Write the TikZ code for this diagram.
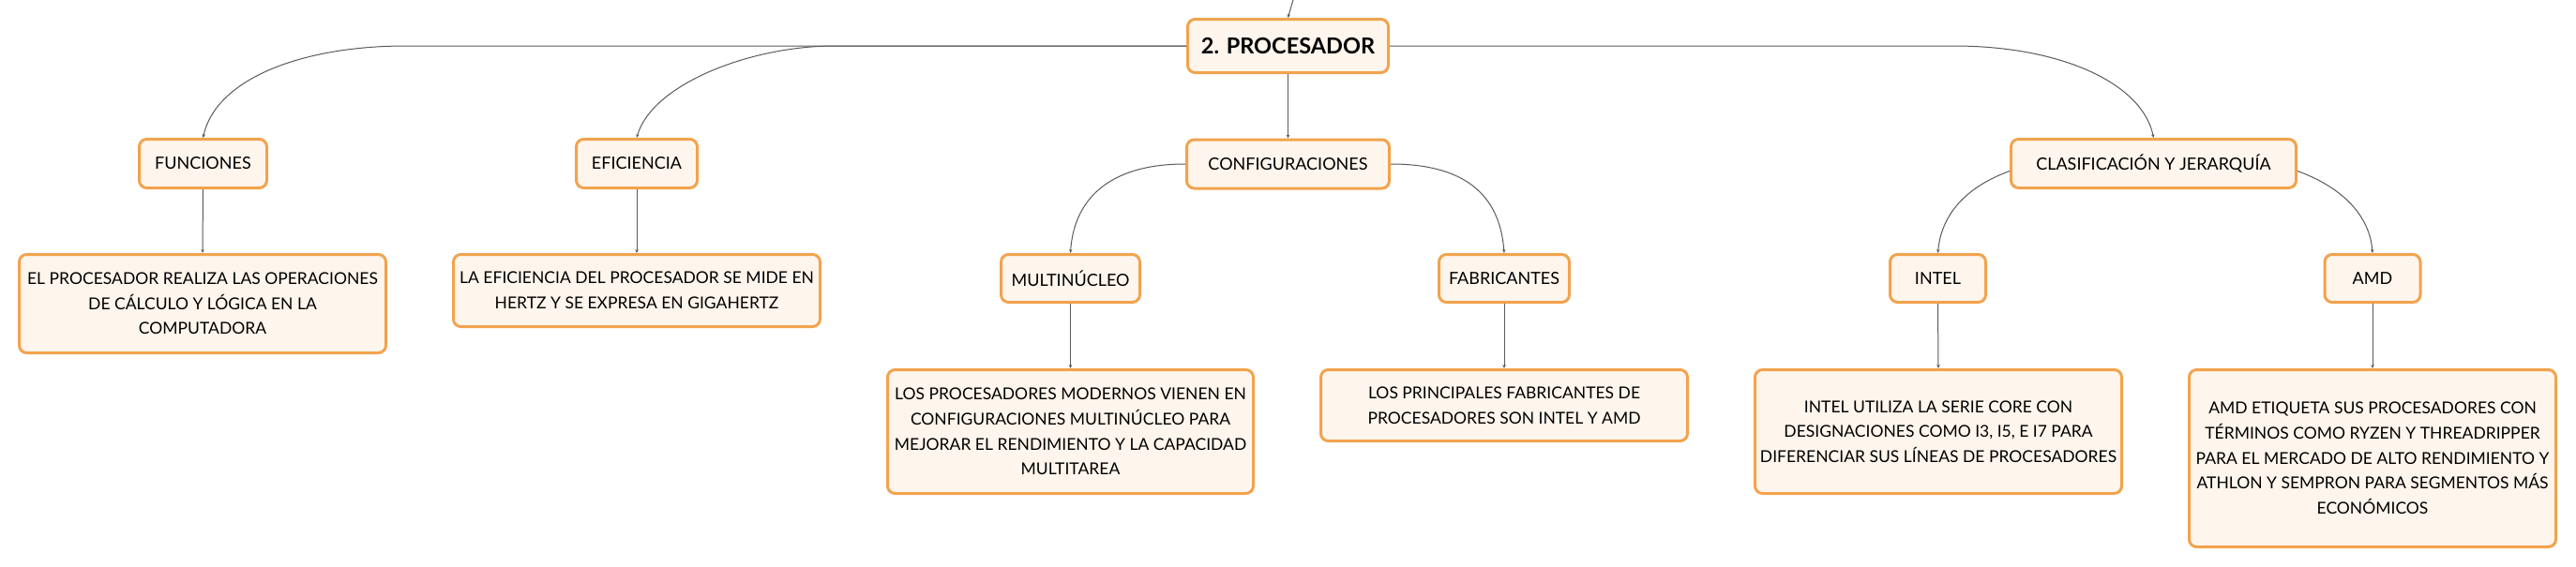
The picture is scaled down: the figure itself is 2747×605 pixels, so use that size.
\documentclass[tikz,border=0pt]{standalone}
\usepackage{fontspec}
\setmainfont{Lato}
\usetikzlibrary{arrows.meta}
\definecolor{boxedge}{HTML}{F2A34D}
\definecolor{boxfill}{HTML}{FEF5EC}
\definecolor{linkc}{HTML}{5A5A5A}
\begin{document}
\begin{tikzpicture}[x=1pt,y=-1pt,
  box/.style={draw=boxedge, fill=boxfill, line width=3pt, rounded corners=8pt,
    inner sep=0pt, align=center, anchor=center, text=black},
  toptitle/.style={box, font=\fontsize{23.5}{28}\selectfont\bfseries},
  topic/.style={box, font=\fontsize{18}{22}\selectfont},
  leaf/.style={box, font=\fontsize{17.5}{26.7}\selectfont},
  link/.style={draw=linkc, line width=1pt, -{Stealth[length=4pt,width=3.5pt]}}]
\useasboundingbox[fill=white] (0,0) rectangle (2747,605);

\coordinate (top) at (1379,0);
\node[toptitle, minimum width=214, minimum height=57] (proc) at (1373.5,49) {2. PROCESADOR};

\node[topic, minimum width=136, minimum height=52] (fun) at (216.5,174.5) {FUNCIONES};
\node[topic, minimum width=129, minimum height=52] (efi) at (679,174.5) {EFICIENCIA};
\node[topic, minimum width=216, minimum height=52] (conf) at (1373.5,175) {CONFIGURACIONES};
\node[topic, minimum width=304, minimum height=52] (clas) at (2296.5,174.5) {CLASIFICACIÓN Y JERARQUÍA};

\node[topic, minimum width=148, minimum height=51] (multi) at (1141.5,297) {MULTINÚCLEO};
\node[topic, minimum width=139, minimum height=51] (fab) at (1604,297) {FABRICANTES};
\node[topic, minimum width=102, minimum height=51] (intel) at (2066.5,297) {INTEL};
\node[topic, minimum width=102, minimum height=51] (amd) at (2530,297) {AMD};

\node[leaf, minimum width=391, minimum height=105] (funT) at (216,324)
  {EL PROCESADOR REALIZA LAS OPERACIONES\\DE CÁLCULO Y LÓGICA EN LA\\COMPUTADORA};
\node[leaf, minimum width=391, minimum height=77] (efiT) at (679,310)
  {LA EFICIENCIA DEL PROCESADOR SE MIDE EN\\HERTZ Y SE EXPRESA EN GIGAHERTZ};
\node[leaf, minimum width=390, minimum height=132] (multiT) at (1141.5,460.5)
  {LOS PROCESADORES MODERNOS VIENEN EN\\CONFIGURACIONES MULTINÚCLEO PARA\\MEJORAR EL RENDIMIENTO Y LA CAPACIDAD\\MULTITAREA};
\node[leaf, minimum width=391, minimum height=76] (fabT) at (1604,432.5)
  {LOS PRINCIPALES FABRICANTES DE\\PROCESADORES SON INTEL Y AMD};
\node[leaf, minimum width=391, minimum height=132] (intelT) at (2067,460.5)
  {INTEL UTILIZA LA SERIE CORE CON\\DESIGNACIONES COMO I3, I5, E I7 PARA\\DIFERENCIAR SUS LÍNEAS DE PROCESADORES};
\node[leaf, minimum width=391, minimum height=189] (amdT) at (2530,489)
  {AMD ETIQUETA SUS PROCESADORES CON\\TÉRMINOS COMO RYZEN Y THREADRIPPER\\PARA EL MERCADO DE ALTO RENDIMIENTO Y\\ATHLON Y SEMPRON PARA SEGMENTOS MÁS\\ECONÓMICOS};

% connectors
\draw[link] (top) .. controls (1376,8) .. (proc.north);
\draw[link] (proc.west) -- (433,49) .. controls (320,49) and (230,85) .. (fun.north);
\draw[link] (proc.west) -- (890,49) .. controls (800,49) and (695,90) .. (efi.north);
\draw[link] (proc.south) -- (conf.north);
\draw[link] (proc.east) -- (2083,49) .. controls (2200,49) and (2285,90) .. (clas.north);

\draw[link] (conf.west) .. controls (1180,175) and (1145,215) .. (multi.north);
\draw[link] (conf.east) .. controls (1570,175) and (1600,215) .. (fab.north);
\draw[link] ([yshift=-8pt]clas.west) .. controls (2095,200) and (2070,230) .. (intel.north);
\draw[link] ([yshift=-8pt]clas.east) .. controls (2498,200) and (2527,230) .. (amd.north);

\draw[link] (fun.south) -- (funT.north);
\draw[link] (efi.south) -- (efiT.north);
\draw[link] (multi.south) -- (multiT.north);
\draw[link] (fab.south) -- (fabT.north);
\draw[link] (intel.south) -- (intelT.north);
\draw[link] (amd.south) -- (amdT.north);
\end{tikzpicture}
\end{document}
